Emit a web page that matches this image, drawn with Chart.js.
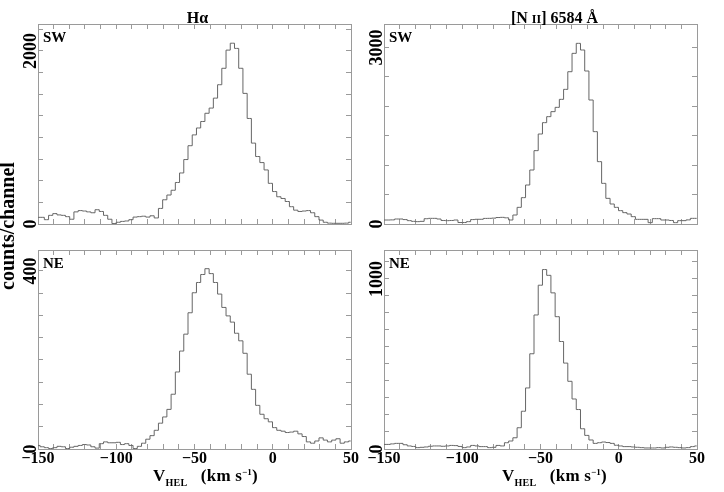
<!DOCTYPE html>
<html>
<head>
<meta charset="utf-8">
<script src="https://cdn.jsdelivr.net/npm/chart.js@4/dist/chart.umd.min.js"></script>
<style>
  body { margin: 0; width: 724px; height: 492px; background: #fff; position: relative; overflow: hidden;
         font-family: "Liberation Serif", serif; font-weight: bold; color: #000; }
  canvas { position: absolute; }
  .xt { position: absolute; font-size: 17px; line-height: 17px; letter-spacing: 0.2px; white-space: pre; z-index: 2; }
  .xt sub { font-size: 10px; vertical-align: -5px; line-height: 0; letter-spacing: 0.3px; }
  .xt sup { font-size: 9px; vertical-align: 6px; line-height: 0; }
  #ytitle { position: absolute; width: 200px; height: 20px; line-height: 20px; font-size: 20px; text-align: center;
            left: -93px; top: 216px; transform: rotate(-90deg); transform-origin: center; z-index: 2; }
</style>
</head>
<body>
<canvas id="haSW" width="362" height="246" style="left:0;top:0"></canvas>
<canvas id="niiSW" width="362" height="246" style="left:362px;top:0"></canvas>
<canvas id="haNE" width="362" height="246" style="left:0;top:246px"></canvas>
<canvas id="niiNE" width="362" height="246" style="left:362px;top:246px"></canvas>
<div id="ytitle">counts/channel</div>
<div class="xt" style="left:153px;top:467px">V<sub>HEL</sub>   (km s<sup>−1</sup>)</div>
<div class="xt" style="left:502px;top:467px">V<sub>HEL</sub>   (km s<sup>−1</sup>)</div>
<script>
// heliocentric velocity of each channel (km/s)
const velocity = [-150, -147.3, -144.6, -141.9, -139.2, -136.5, -133.8, -131.1, -128.4, -125.7,
  -123, -120.3, -117.6, -114.9, -112.2, -109.5, -106.8, -104.1, -101.4, -98.7,
  -96, -93.3, -90.6, -87.9, -85.2, -82.5, -79.8, -77.1, -74.4, -71.7,
  -69, -66.3, -63.6, -60.9, -58.2, -55.5, -52.8, -50.1, -47.4, -44.7,
  -42, -39.3, -36.6, -33.9, -31.2, -28.5, -25.8, -23.1, -20.4, -17.7,
  -15, -12.3, -9.6, -6.9, -4.2, -1.5, 1.2, 3.9, 6.6, 9.3,
  12, 14.7, 17.4, 20.1, 22.8, 25.5, 28.2, 30.9, 33.6, 36.3,
  39, 41.7, 44.4, 47.1, 49.8];

// counts per channel
const haSW = [77, 77, 50, 100, 120, 105, 100, 85, 55, 140,
  155, 150, 140, 130, 165, 145, 100, 55, 5, 20,
  30, 35, 50, 80, 85, 90, 80, 95, 70, 180,
  280, 335, 390, 480, 590, 745, 905, 1030, 1110, 1185,
  1280, 1340, 1455, 1610, 1800, 2010, 2090, 2030, 1800, 1510,
  1220, 935, 780, 710, 625, 470, 375, 315, 295, 260,
  200, 160, 145, 150, 155, 130, 85, 45, 20, 10,
  8, 8, 8, 10, 20];
const niiSW = [68, 68, 70, 85, 85, 75, 57, 45, 40, 45,
  90, 96, 96, 85, 60, 57, 60, 68, 25, 25,
  40, 75, 80, 80, 95, 96, 100, 110, 113, 105,
  68, 153, 283, 448, 663, 918, 1247, 1530, 1723, 1825,
  1910, 1983, 2119, 2289, 2589, 2901, 3071, 2958, 2601, 2108,
  1570, 1060, 691, 436, 340, 283, 227, 193, 170, 125,
  79, 79, 79, 23, 91, 91, 68, 68, 60, 23,
  57, 57, 70, 96, 96];
const haNE = [8, 5, 3, 1, 3, 6, 5, 1, 4, 6,
  8, 10, 9, 5, 2, 12, 16, 14, 14, 15,
  10, 12, 8, 1, 6, 13, 22, 30, 42, 58,
  72, 89, 123, 173, 220, 258, 306, 351, 374, 392,
  405, 394, 374, 348, 318, 299, 285, 260, 243, 215,
  168, 134, 98, 78, 68, 61, 48, 42, 40, 37,
  38, 40, 34, 28, 16, 13, 18, 25, 20, 16,
  20, 23, 13, 16, 18];
const niiNE = [27, 27, 30, 33, 33, 25, 18, 15, 8, 10,
  12, 16, 18, 18, 16, 18, 21, 20, 15, 8,
  12, 21, 18, 14, 14, 8, 10, 21, 18, 37,
  47, 66, 125, 222, 359, 560, 788, 963, 1055, 1021,
  918, 778, 632, 505, 398, 294, 232, 119, 80, 53,
  33, 37, 41, 38, 33, 22, 18, 14, 14, 12,
  10, 8, 6, 6, 6, 8, 6, 10, 12, 10,
  8, 6, 8, 14, 18];

// ticks and tick labels
const xTicks = [-150, -140, -130, -120, -110, -100, -90, -80, -70, -60, -50,
  -40, -30, -20, -10, 0, 10, 20, 30, 40, 50];
const xTickLabels = [-150, -100, -50, 0, 50];
const yTicksHaSW = [0, 250, 500, 750, 1000, 1250, 1500, 1750, 2000, 2250];
const yTicksNiiSW = [0, 500, 1000, 1500, 2000, 2500, 3000];
const yTicksHaNE = [0, 50, 100, 150, 200, 250, 300, 350, 400];
const yTicksNiiNE = [0, 100, 200, 300, 400, 500, 600, 700, 800, 900, 1000, 1100];
const yLabelsHaSW = [0, 2000];
const yLabelsNiiSW = [0, 3000];
const yLabelsHaNE = [0, 400];
const yLabelsNiiNE = [0, 1000];

const FONT = '"Liberation Serif", "Times New Roman", serif';
const boxColor = '#9a9a9a';

function drawRuns(ctx, runs, cx, y) {
  let total = 0;
  runs.forEach(r => { ctx.font = 'bold ' + r.size + 'px ' + FONT; r.w = ctx.measureText(r.t).width; total += r.w; });
  let x = cx - total / 2;
  runs.forEach(r => { ctx.font = 'bold ' + r.size + 'px ' + FONT; ctx.fillText(r.t, x, y); x += r.w; });
}

// panel tag (SW / NE) and line title above the top row
const panelText = {
  id: 'panelText',
  afterDraw(chart, args, o) {
    const ctx = chart.ctx, a = chart.chartArea;
    ctx.save();
    ctx.fillStyle = '#000';
    ctx.textAlign = 'left';
    ctx.textBaseline = 'alphabetic';
    ctx.font = 'bold 15px ' + FONT;
    ctx.fillText(o.tag, a.left + 5, a.top + 18);
    if (o.title) drawRuns(ctx, o.title, (a.left + a.right) / 2 + o.titleShift, a.top - 1);
    ctx.restore();
  }
};

function yPad(labels) {
  const c = document.createElement('canvas').getContext('2d');
  c.font = 'bold 18px ' + FONT;
  const w = Math.max(...labels.map(l => c.measureText(String(l)).width));
  return 12 - w / 2;
}

function fmt(v) {
  return v < 0 ? '\u2212' + Math.abs(v) : String(v);
}

function noPad(s) {
  s.paddingLeft = 0; s.paddingRight = 0; s.paddingTop = 0; s.paddingBottom = 0;
}

function setTicks(list) {
  return s => { s.ticks = list.map(v => ({ value: v })); };
}

function makePanel(id, values, p) {
  const ctx = document.getElementById(id).getContext('2d');
  const grid = { drawOnChartArea: false, tickLength: -5, color: boxColor, lineWidth: 1 };
  const border = { display: true, color: boxColor, width: 1 };
  const blank = () => '';
  return new Chart(ctx, {
    type: 'line',
    data: {
      datasets: [{
        data: values.map((v, i) => ({ x: velocity[i], y: v })),
        stepped: 'middle',
        borderColor: '#666666',
        borderWidth: 1,
        pointRadius: 0,
        fill: false
      }]
    },
    options: {
      responsive: false,
      animation: false,
      events: [],
      layout: { padding: 0 },
      plugins: {
        legend: { display: false },
        tooltip: { enabled: false },
        panelText: { tag: p.tag, title: p.title, titleShift: p.titleShift || 0 }
      },
      scales: {
        x: {
          type: 'linear', position: 'bottom', min: -150, max: 50,
          afterBuildTicks: setTicks(xTicks),
          afterFit: s => { s.height = p.bottom; noPad(s); },
          ticks: {
            autoSkip: false, minRotation: 0, maxRotation: 0, padding: 7, color: '#000',
            font: { family: FONT, weight: 'bold', size: 16, lineHeight: 1 },
            callback: v => (p.xLabels && xTickLabels.includes(v)) ? fmt(v) : ''
          },
          grid, border
        },
        x2: {
          type: 'linear', position: 'top', min: -150, max: 50,
          afterBuildTicks: setTicks(xTicks),
          afterFit: s => { s.height = p.top; noPad(s); },
          ticks: { autoSkip: false, minRotation: 0, maxRotation: 0, callback: blank },
          grid, border
        },
        y: {
          type: 'linear', position: 'left', min: 0, max: p.yMax,
          afterBuildTicks: setTicks(p.yTicks),
          afterFit: s => { s.width = p.left; noPad(s); },
          ticks: {
            autoSkip: false, minRotation: 90, maxRotation: 90,
            crossAlign: 'center', padding: yPad(p.yLabels), color: '#000',
            font: { family: FONT, weight: 'bold', size: 18, lineHeight: 1 },
            callback: v => p.yLabels.includes(v) ? String(v) : ''
          },
          grid, border
        },
        y2: {
          type: 'linear', position: 'right', min: 0, max: p.yMax,
          afterBuildTicks: setTicks(p.yTicks),
          afterFit: s => { s.width = p.right; noPad(s); },
          ticks: { autoSkip: false, callback: blank },
          grid, border
        }
      }
    },
    plugins: [panelText]
  });
}

window.addEventListener('load', function () {
  makePanel('haSW', haSW, {
    tag: 'SW', title: [{ t: 'H\u03b1', size: 16 }], titleShift: 3,
    yMax: 2312, yTicks: yTicksHaSW, yLabels: yLabelsHaSW, xLabels: false,
    left: 38, right: 11, top: 24, bottom: 22
  });
  makePanel('niiSW', niiSW, {
    tag: 'SW', title: [{ t: '[N ', size: 16 }, { t: 'II', size: 12 }, { t: '] 6584 \u00c5', size: 16 }], titleShift: 14,
    yMax: 3400, yTicks: yTicksNiiSW, yLabels: yLabelsNiiSW, xLabels: false,
    left: 22, right: 27, top: 24, bottom: 22
  });
  makePanel('haNE', haNE, {
    tag: 'NE', yMax: 447, yTicks: yTicksHaNE, yLabels: yLabelsHaNE, xLabels: true,
    left: 38, right: 11, top: 4, bottom: 43
  });
  makePanel('niiNE', niiNE, {
    tag: 'NE', yMax: 1170, yTicks: yTicksNiiNE, yLabels: yLabelsNiiNE, xLabels: true,
    left: 22, right: 27, top: 4, bottom: 43
  });
});
</script>
</body>
</html>
